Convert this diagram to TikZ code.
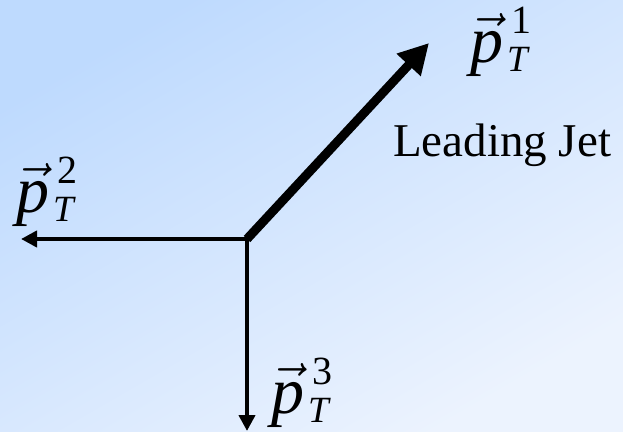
\RequirePackage{fix-cm}
\documentclass[tikz,border=0pt]{standalone}
\usepackage{fontspec}
\setmainfont{Liberation Serif}
\usetikzlibrary{arrows.meta, positioning}

\definecolor{bgtop}{RGB}{190,218,254}
\definecolor{bgbot}{RGB}{236,243,254}

% momentum vector label, p with arrow, sub T, sup index
\newcommand{\ptvec}[1]{$\vec{\mbox{\textit{p}}}$\kern4pt%
  \rlap{\raisebox{29pt}{\fontsize{40}{40}\selectfont\kern4pt#1}}%
  \raisebox{-9pt}{\fontsize{37}{37}\selectfont\textit{T}}}

\begin{document}
\begin{tikzpicture}[
  x=1pt, y=1pt,
  lbl/.style ={inner sep=0pt, font=\fontsize{66}{66}\selectfont},
  txt/.style ={inner sep=0pt, font=\fontsize{47}{47}\selectfont},
  jet/.style ={-{Triangle[length=30pt, width=31pt]}, line width=9pt, draw=black},
  arr/.style ={-{Triangle[length=16pt, width=16pt]}, line width=4.5pt, draw=black},
]

% --- Background ---
\shade[shading=axis, top color=bgtop, bottom color=bgbot, shading angle=30]
  (0,0) rectangle (623,431);
\useasboundingbox (0,0) rectangle (623,431);

% --- Points ---
\coordinate (o)  at (247,192);
\coordinate (t1) at (429,388);
\coordinate (t2) at (21,192);
\coordinate (t3) at (247,0);

% --- Arrows ---
\draw[jet] (o) -- (t1);
\draw[arr] (o) -- (t2);
\draw[arr] (o) -- (t3);

% --- Labels ---
\node[lbl, anchor=base west] (p1) at (470,368) {\ptvec{1}};
\node[txt, anchor=base west] (lead) at (393,274) {Leading Jet};
\node[lbl, anchor=base west] (p2) at (16,218) {\ptvec{2}};
\node[lbl, anchor=base west] (p3) at (271,18) {\ptvec{3}};
\end{tikzpicture}
\end{document}
